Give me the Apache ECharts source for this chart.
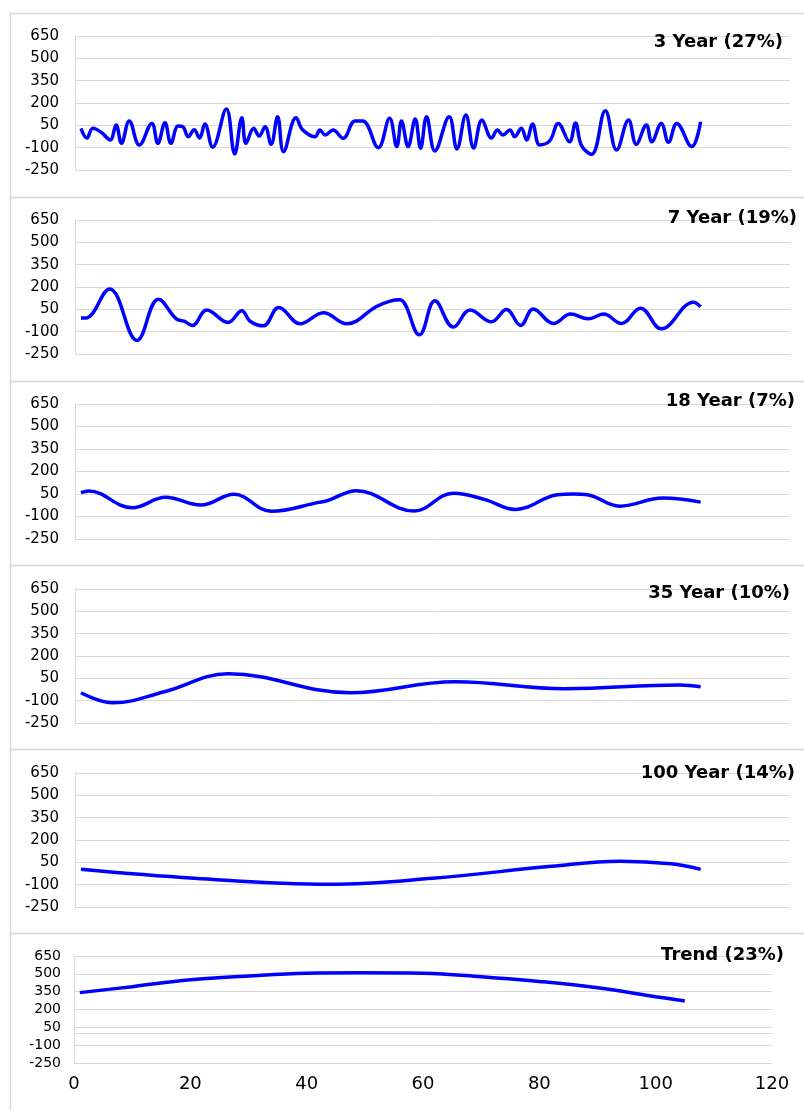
<!DOCTYPE html>
<html><head><meta charset="utf-8">
<script src="https://cdn.jsdelivr.net/npm/echarts@6/dist/echarts.min.js"></script>
<style>html,body{margin:0;padding:0;background:#fff}#c{width:804px;height:1110px}</style>
</head><body><div id="c"></div>
<script>
const titles = ['3 Year (27%)', '7 Year (19%)', '18 Year (7%)', '35 Year (10%)', '100 Year (14%)', 'Trend (23%)'];
const yTicks = [-250, -100, 50, 200, 350, 500, 650];
const xTicks = [0, 20, 40, 60, 80, 100, 120];

const threeYear = [[1,30],[2,-35],[3,30],[4.5,0],[5.9,-48],[6.9,52],[7.8,-71],[9.1,79],[10.8,-82],[12.9,63],[13.9,-71],[15.1,67],[16.1,-71],[17.3,45],[18.1,40],[19,-26],[20,20],[20.9,-35],[21.8,59],[23.1,-97],[25.4,159],[26.8,-142],[28,101],[28.7,-71],[30,30],[30.9,-22],[31.9,41],[32.9,-77],[34,108],[35,-127],[37.1,101],[38.2,20],[40.3,-26],[41.1,18],[42,-15],[43.3,18],[45,-37],[47,79],[48.3,79],[50.9,-100],[52.8,97],[54,-93],[54.8,79],[55.9,-93],[57.1,92],[58,-104],[59,108],[60.4,-122],[62.8,108],[64.1,-109],[65.6,119],[66.9,-102],[68.3,86],[69.9,-35],[70.9,18],[71.8,-15],[73,18],[73.8,-26],[74.9,30],[75.8,-48],[76.8,59],[78,-82],[79.7,-52],[81.1,63],[83,-60],[84,66],[85,-85],[86.7,-145],[89,148],[90.9,-116],[92.9,86],[94.2,-77],[95.9,52],[96.8,-60],[98.4,63],[99.6,-64],[101,63],[103.5,-93],[105,74]];
const sevenYear = [[1,-9],[1.8,-9],[5.8,187],[10.4,-159],[14,118],[17,-14],[18.3,-30],[19.7,-58],[22.1,45],[25.7,-38],[28,40],[29.4,-30],[31.6,-61],[34.2,62],[37.8,-47],[41.7,27],[45.6,-47],[50.6,69],[52.9,105],[54.5,114],[57.8,-121],[60.4,107],[63.5,-69],[66.3,45],[69.9,-34],[72.4,49],[74.8,-58],[76.9,53],[80.3,-45],[83.2,18],[86.1,-14],[88.7,18],[91.7,-45],[94.9,58],[98.4,-81],[103.8,98],[105,67]];
const eighteenYear = [[1,59],[2.3,70],[9.6,-42],[15.2,28],[21.1,-24],[26.7,48],[32.9,-65],[40.9,-6],[42.5,8],[47.2,72],[56.9,-63],[63.5,55],[68.7,14],[73.9,-53],[81,45],[83.7,50],[86,45],[91.4,-31],[98.7,23],[105,-4]];
const thirtyFiveYear = [[1,-47],[6.4,-114],[15,-40],[25.7,80],[46.2,-47],[63.8,27],[82.2,-20],[101.5,6],[105,-7]];
const hundredYear = [[1,3],[20,-57],[42.8,-97],[60,-57],[80,23],[91.5,57],[100,40],[105,3]];
const trend = [[1,342],[10,392],[20,450],[30,482],[40,505],[49,509],[60,505],[70,476],[80,436],[90,383],[100,308],[105,271]];

const seriesData = [threeYear, sevenYear, eighteenYear, thirtyFiveYear, hundredYear, trend];

// layout (pixels)
const gridTops = [36, 220, 404, 589, 773, 956];
const gridHeights = [134, 134, 135, 134, 134, 107];
const gridLefts = [75, 75, 75, 75, 75, 74];
const gridRights = [14, 14, 14, 14, 14, 32];
const titleTops = [33, 209, 392, 584, 764, 946];
const titleRights = [21, 7, 9, 14, 9, 20];
const frameTops = [11, 195, 379, 563, 747, 931];

const chart = echarts.init(document.getElementById('c'), null, {renderer: 'canvas'});
const FONT = 'DejaVu Sans';
const grids = [], xAxes = [], yAxes = [], series = [], title = [], graphics = [];
for (let i = 0; i < 6; i++) {
  const last = i === 5;
  grids.push({left: gridLefts[i], right: gridRights[i], top: gridTops[i], height: gridHeights[i], containLabel: false});
  xAxes.push({
    type: 'value', gridIndex: i, min: xTicks[0], max: xTicks[xTicks.length - 1], interval: xTicks[1] - xTicks[0],
    axisLine: {show: last, lineStyle: {color: '#d9d9d9', width: 1}},
    axisTick: {show: false}, splitLine: {show: false},
    axisLabel: {show: last, color: '#000', fontFamily: FONT, fontSize: 18, margin: 12}
  });
  yAxes.push({
    type: 'value', gridIndex: i, min: yTicks[0], max: yTicks[yTicks.length - 1], interval: yTicks[1] - yTicks[0],
    axisLine: {show: true, lineStyle: {color: '#d9d9d9', width: 1}},
    axisTick: {show: false},
    splitLine: {show: true, lineStyle: {color: '#d9d9d9', width: 1}},
    axisLabel: {color: '#000', fontFamily: FONT, fontSize: last ? 14 : 15, margin: last ? 13 : 16}
  });
  series.push({
    type: 'line', xAxisIndex: i, yAxisIndex: i, data: seriesData[i], showSymbol: false, smooth: 0.4,
    lineStyle: {color: '#0000ff', width: 3.5}, animation: false
  });
  title.push({
    text: titles[i], right: titleRights[i], top: titleTops[i], padding: 0,
    textStyle: {fontFamily: FONT, fontWeight: 'bold', fontSize: 18, color: '#000'}
  });
  graphics.push({
    type: 'rect', left: 8, top: frameTops[i], silent: true, z: -10,
    shape: {width: 810, height: 184},
    style: {fill: 'none', stroke: '#d9d9d9', lineWidth: 1.5}
  });
}
chart.setOption({
  animation: false,
  backgroundColor: '#fff',
  title: title,
  grid: grids,
  xAxis: xAxes,
  yAxis: yAxes,
  series: series,
  graphic: graphics
});
</script>
</body></html>
